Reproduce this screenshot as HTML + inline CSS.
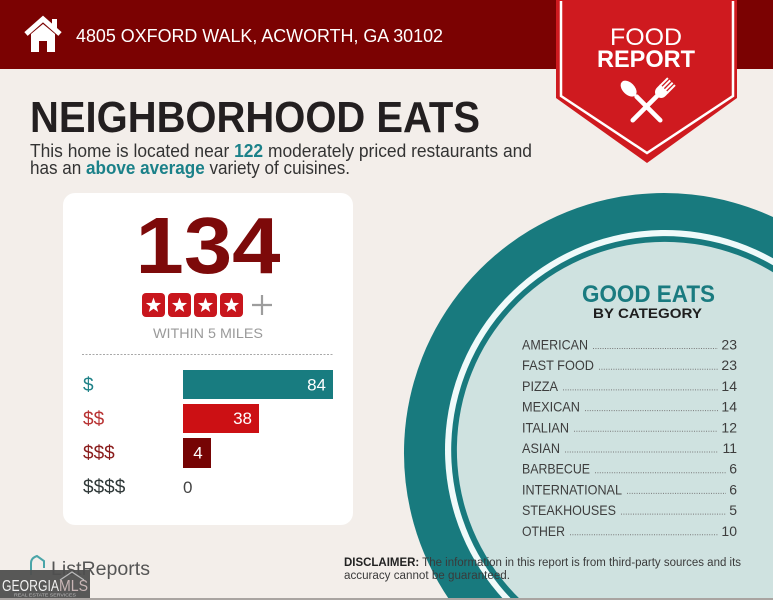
<!DOCTYPE html>
<html>
<head>
<meta charset="utf-8">
<style>
html,body{margin:0;padding:0;background:#f3eeea;width:773px;height:600px;overflow:hidden;position:relative;}
svg{display:block;position:absolute;left:0;top:0;}
text{font-family:"Liberation Sans",sans-serif;}
</style>
</head>
<body>
<svg width="773" height="600" viewBox="0 0 773 600" xmlns="http://www.w3.org/2000/svg" overflow="hidden">
  <rect x="0" y="0" width="773" height="600" fill="#f3eeea"/>

  <!-- Header -->
  <rect x="0" y="0" width="773" height="69" fill="#7b0202"/>
  <!-- house icon -->
  <polyline points="26,34 43,19 60,34" fill="none" stroke="#fff" stroke-width="5" stroke-linejoin="miter"/>
  <rect x="52" y="19" width="5" height="10" fill="#fff"/>
  <path d="M31,34 L43,24 L55,34 L55,52 L47,52 L47,41 L39,41 L39,52 L31,52 Z" fill="#fff"/>
  <text x="76" y="42" font-size="18" fill="#fff" textLength="367" lengthAdjust="spacingAndGlyphs">4805 OXFORD WALK, ACWORTH, GA 30102</text>

  <!-- Ribbon -->
  <polygon points="556,0 737,0 737,98 647,163 556,98" fill="#cf1a1f"/>
  <polyline points="561,1 561,96 647,153 733,96 733,1" fill="none" stroke="#fff" stroke-width="2.5"/>
  <text x="646" y="45" font-size="24" fill="#fff" text-anchor="middle" textLength="72" lengthAdjust="spacingAndGlyphs">FOOD</text>
  <text x="646" y="67" font-size="24" font-weight="bold" fill="#fff" text-anchor="middle" textLength="98" lengthAdjust="spacingAndGlyphs">REPORT</text>
  <!-- spoon -->
  <g transform="translate(635,95) rotate(-45)" fill="#fff">
    <rect x="-2.3" y="0" width="4.6" height="38" rx="2.3"/>
    <ellipse cx="0" cy="-9" rx="6" ry="9.5"/>
  </g>
  <!-- fork -->
  <g transform="translate(658,95) rotate(45)" fill="#fff" stroke="none">
    <rect x="-2.3" y="-2" width="4.6" height="40" rx="2.3"/>
    <path d="M-6,-9 L6,-9 L6,-5 Q6,1 0,2 Q-6,1 -6,-5 Z"/>
    <rect x="-6" y="-19" width="2" height="11"/>
    <rect x="-2.7" y="-19" width="2" height="11"/>
    <rect x="0.7" y="-19" width="2" height="11"/>
    <rect x="4" y="-19" width="2" height="11"/>
  </g>

  <!-- Title -->
  <text x="30" y="132" font-size="44" font-weight="bold" fill="#231f20" textLength="450" lengthAdjust="spacingAndGlyphs">NEIGHBORHOOD EATS</text>
  <text x="30" y="157" font-size="18" fill="#333" textLength="502" lengthAdjust="spacingAndGlyphs">This home is located near <tspan font-weight="bold" fill="#1b8189">122</tspan> moderately priced restaurants and</text>
  <text x="30" y="174" font-size="18" fill="#333" textLength="320" lengthAdjust="spacingAndGlyphs">has an <tspan font-weight="bold" fill="#1b8189">above average</tspan> variety of cuisines.</text>

  <!-- Right circle (clipped to frame geometrically) -->
  <path d="M773,217 A260,260 0 0 0 449.5,600 L773,600 Z" fill="#187a7e"/>
  <path d="M773,258.3 A220,220 0 0 0 504.1,600 L773,600 Z" fill="#effafa"/>
  <path d="M773,265.3 A214,214 0 0 0 512.4,600 L773,600 Z" fill="#187a7e"/>
  <path d="M773,272.2 A208,208 0 0 0 520.9,600 L773,600 Z" fill="#cfe2e0"/>

  <text x="648.5" y="302" font-size="24" font-weight="bold" fill="#1a7b80" text-anchor="middle" textLength="133" lengthAdjust="spacingAndGlyphs">GOOD EATS</text>
  <text x="647.5" y="318" font-size="14" font-weight="bold" fill="#1e1e1e" text-anchor="middle" textLength="109" lengthAdjust="spacingAndGlyphs">BY CATEGORY</text>

  <g font-size="14" fill="#3d3d3d">
    <text x="522" y="349.5" textLength="66" lengthAdjust="spacingAndGlyphs">AMERICAN</text>
    <text x="522" y="370.2" textLength="72" lengthAdjust="spacingAndGlyphs">FAST FOOD</text>
    <text x="522" y="390.9" textLength="36" lengthAdjust="spacingAndGlyphs">PIZZA</text>
    <text x="522" y="411.6" textLength="58" lengthAdjust="spacingAndGlyphs">MEXICAN</text>
    <text x="522" y="432.3" textLength="47" lengthAdjust="spacingAndGlyphs">ITALIAN</text>
    <text x="522" y="453.0" textLength="38" lengthAdjust="spacingAndGlyphs">ASIAN</text>
    <text x="522" y="473.7" textLength="68" lengthAdjust="spacingAndGlyphs">BARBECUE</text>
    <text x="522" y="494.4" textLength="100" lengthAdjust="spacingAndGlyphs">INTERNATIONAL</text>
    <text x="522" y="515.1" textLength="94" lengthAdjust="spacingAndGlyphs">STEAKHOUSES</text>
    <text x="522" y="535.8" textLength="43" lengthAdjust="spacingAndGlyphs">OTHER</text>
  </g>
  <g font-size="14" fill="#3d3d3d" text-anchor="end">
    <text x="737" y="349.5">23</text>
    <text x="737" y="370.2">23</text>
    <text x="737" y="390.9">14</text>
    <text x="737" y="411.6">14</text>
    <text x="737" y="432.3">12</text>
    <text x="737" y="453.0">11</text>
    <text x="737" y="473.7">6</text>
    <text x="737" y="494.4">6</text>
    <text x="737" y="515.1">5</text>
    <text x="737" y="535.8">10</text>
  </g>
  <g stroke="#7a7a7a" stroke-width="1" stroke-dasharray="1 1.4">
    <line x1="593" y1="348.5" x2="718" y2="348.5"/>
    <line x1="599" y1="369.2" x2="718" y2="369.2"/>
    <line x1="563" y1="389.9" x2="718" y2="389.9"/>
    <line x1="585" y1="410.6" x2="718" y2="410.6"/>
    <line x1="574" y1="431.3" x2="718" y2="431.3"/>
    <line x1="565" y1="452.0" x2="718" y2="452.0"/>
    <line x1="595" y1="472.7" x2="726" y2="472.7"/>
    <line x1="627" y1="493.4" x2="726" y2="493.4"/>
    <line x1="621" y1="514.1" x2="726" y2="514.1"/>
    <line x1="570" y1="534.8" x2="718" y2="534.8"/>
  </g>

  <!-- Card -->
  <rect x="63" y="193" width="290" height="332" rx="12" fill="#fff"/>
  <text x="208" y="273" font-size="80" font-weight="bold" fill="#7d0a0a" text-anchor="middle" textLength="145" lengthAdjust="spacingAndGlyphs">134</text>

  <g>
    <rect x="142" y="293" width="23" height="24" rx="4" fill="#c8161d"/>
    <rect x="168" y="293" width="23" height="24" rx="4" fill="#c8161d"/>
    <rect x="194" y="293" width="23" height="24" rx="4" fill="#c8161d"/>
    <rect x="220" y="293" width="23" height="24" rx="4" fill="#c8161d"/>
    <g fill="#fff">
      <path transform="translate(153.5,305.5)" d="M0,-8 L1.94,-2.67 L7.61,-2.47 L3.14,1.02 L4.70,6.47 L0,3.3 L-4.70,6.47 L-3.14,1.02 L-7.61,-2.47 L-1.94,-2.67 Z"/>
      <path transform="translate(179.5,305.5)" d="M0,-8 L1.94,-2.67 L7.61,-2.47 L3.14,1.02 L4.70,6.47 L0,3.3 L-4.70,6.47 L-3.14,1.02 L-7.61,-2.47 L-1.94,-2.67 Z"/>
      <path transform="translate(205.5,305.5)" d="M0,-8 L1.94,-2.67 L7.61,-2.47 L3.14,1.02 L4.70,6.47 L0,3.3 L-4.70,6.47 L-3.14,1.02 L-7.61,-2.47 L-1.94,-2.67 Z"/>
      <path transform="translate(231.5,305.5)" d="M0,-8 L1.94,-2.67 L7.61,-2.47 L3.14,1.02 L4.70,6.47 L0,3.3 L-4.70,6.47 L-3.14,1.02 L-7.61,-2.47 L-1.94,-2.67 Z"/>
    </g>
    <line x1="252" y1="305" x2="272" y2="305" stroke="#9d9d9d" stroke-width="2.2"/>
    <line x1="262" y1="295" x2="262" y2="315" stroke="#9d9d9d" stroke-width="2.2"/>
  </g>
  <text x="208" y="338" font-size="14" fill="#9a9a9a" text-anchor="middle" textLength="110" lengthAdjust="spacingAndGlyphs">WITHIN 5 MILES</text>
  <line x1="82" y1="354.5" x2="333" y2="354.5" stroke="#a8a8a8" stroke-width="1" stroke-dasharray="2 1.5"/>

  <!-- bars -->
  <rect x="183" y="370" width="150" height="29" fill="#187c80"/>
  <rect x="183" y="404" width="76" height="29" fill="#cc1014"/>
  <rect x="183" y="438" width="28" height="30" fill="#760404"/>
  <g font-size="17" fill="#fff">
    <text x="326" y="390.5" text-anchor="end">84</text>
    <text x="252" y="424" text-anchor="end">38</text>
    <text x="198" y="458.5" text-anchor="middle">4</text>
  </g>
  <text x="183" y="493" font-size="17" fill="#444">0</text>
  <g font-size="19">
    <text x="83" y="391" fill="#1e8187">$</text>
    <text x="83" y="425" fill="#b83232">$$</text>
    <text x="83" y="459" fill="#8a1c1c">$$$</text>
    <text x="83" y="493" fill="#2f3838">$$$$</text>
  </g>

  <!-- Footer -->
  <text x="344" y="566" font-size="11.5" fill="#3a3a3a" textLength="397" lengthAdjust="spacingAndGlyphs"><tspan font-weight="bold" fill="#222">DISCLAIMER:</tspan> The information in this report is from third-party sources and its</text>
  <text x="344" y="579" font-size="11.5" fill="#3a3a3a" textLength="166" lengthAdjust="spacingAndGlyphs">accuracy cannot be guaranteed.</text>

  <!-- ListReports logo -->
  <path d="M31,575 L31,563 Q31,558 37,556 L44,561 L44,568" fill="none" stroke="#4aa5a8" stroke-width="2"/>
  <text x="51" y="575" font-size="19" fill="#555" textLength="99" lengthAdjust="spacingAndGlyphs">ListReports</text>

  <!-- Georgia MLS badge -->
  <rect x="0" y="570" width="90" height="30" fill="#4f4f4f" opacity="0.95"/>
  <polyline points="60,580 72,572 84,580" fill="none" stroke="#bbb" stroke-width="1.2"/>
  <text x="2" y="591" font-size="15.5" fill="#f2f2f2" textLength="57" lengthAdjust="spacingAndGlyphs">GEORGIA</text>
  <text x="59" y="591" font-size="15.5" fill="#c9b6b6" textLength="29" lengthAdjust="spacingAndGlyphs">MLS</text>
  <text x="14" y="596.5" font-size="4.5" fill="#bbb" textLength="62" lengthAdjust="spacingAndGlyphs">REAL ESTATE SERVICES</text>

  <rect x="0" y="598" width="773" height="2" fill="#a9a4a1"/>
</svg>
</body>
</html>
